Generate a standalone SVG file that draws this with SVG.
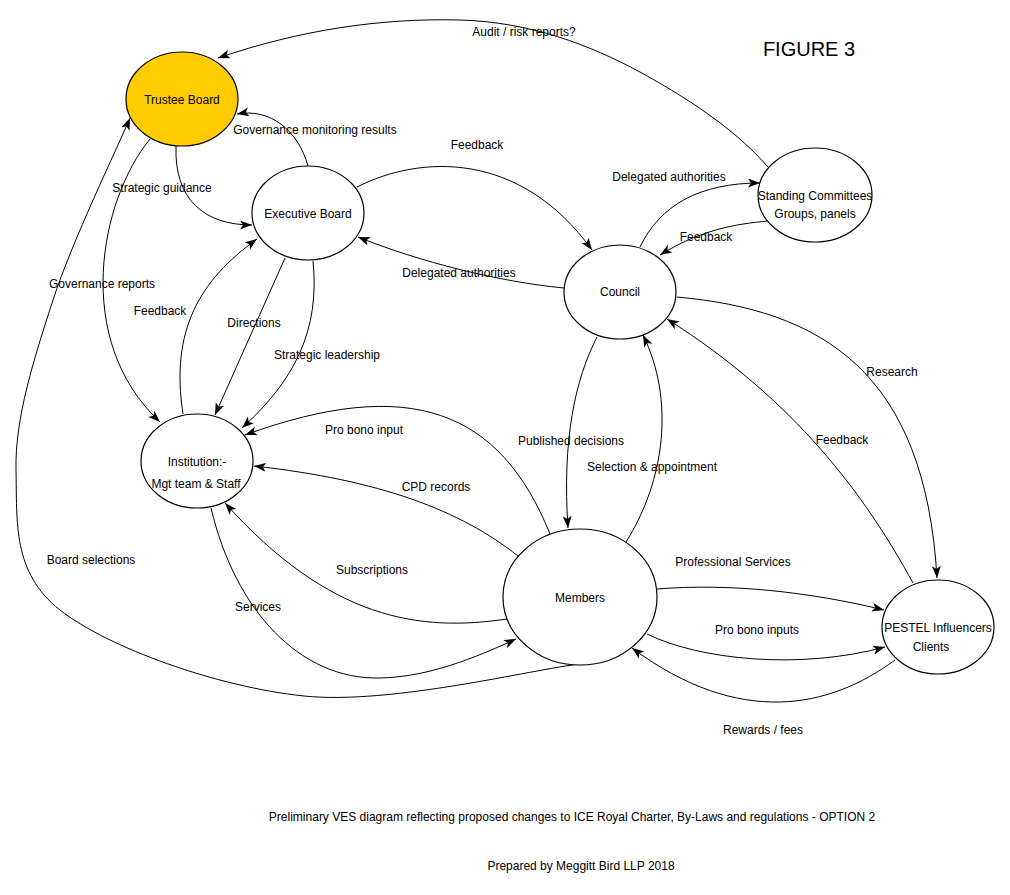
<svg xmlns="http://www.w3.org/2000/svg" width="1010" height="895" viewBox="0 0 1010 895">
<style>
.n{fill:#fff;stroke:#000;stroke-width:1.2}
.c{fill:none;stroke:#000;stroke-width:1}
text{font-family:"Liberation Sans",Arial,sans-serif;font-size:12px;fill:#000;text-anchor:middle}
.t{font-size:20px}
</style>
<defs>
<marker id="a" markerUnits="userSpaceOnUse" markerWidth="13" markerHeight="10" refX="12" refY="4.5" orient="auto">
<path d="M0,0 L12,4.5 L0,9 L3,4.5 z" fill="#000"/>
</marker>
</defs>
<rect width="1010" height="895" fill="#fff"/>
<g id="connectors">
<path class="c" marker-end="url(#a)" d="M768,167 C740,135 700,105 640,72 C590,45 530,22 460,20 C380,18 300,30 218,58"/>
<path class="c" marker-end="url(#a)" d="M308,166 C298,130 270,108 237,114"/>
<path class="c" marker-end="url(#a)" d="M176,146 C174,200 205,225 252,225"/>
<path class="c" marker-end="url(#a)" d="M357,187 C420,155 520,150 592,250"/>
<path class="c" marker-end="url(#a)" d="M564,288 C500,282 420,262 358,237"/>
<path class="c" marker-end="url(#a)" d="M640,247 C660,205 700,183 760,183"/>
<path class="c" marker-end="url(#a)" d="M768,221 C735,224 700,230 660,255"/>
<path class="c" marker-end="url(#a)" d="M580,664 C534,669 390.7,705 304,696 C217.3,687 108,647.7 60,610 C12,572.3 17.2,521.7 16,470 C14.8,418.3 34,358.7 53,300 C72,241.3 117.2,148.3 130,118"/>
<path class="c" marker-end="url(#a)" d="M150,139 C100,200 72,340 160,422"/>
<path class="c" marker-end="url(#a)" d="M183,414 C170,330 200,280 257,239"/>
<path class="c" marker-end="url(#a)" d="M285,258 L215,415"/>
<path class="c" marker-end="url(#a)" d="M313,261 C320,330 295,380 242,428"/>
<path class="c" marker-end="url(#a)" d="M550,534 C500,410 410,375 245,435"/>
<path class="c" marker-end="url(#a)" d="M518,556 C460,510 380,480 254,466"/>
<path class="c" marker-end="url(#a)" d="M507,619 C420,632 330,620 225,503"/>
<path class="c" marker-end="url(#a)" d="M211,508 C235,610 300,680 380,678 C420,677 460,665 516,639"/>
<path class="c" marker-end="url(#a)" d="M597,337 C575,380 562,440 568,528"/>
<path class="c" marker-end="url(#a)" d="M626,542 C665,480 675,400 643,335"/>
<path class="c" marker-end="url(#a)" d="M913,583 C865,495 795,400 667,319"/>
<path class="c" marker-end="url(#a)" d="M677,297 C820,310 925,370 937,578"/>
<path class="c" marker-end="url(#a)" d="M657,589 C730,583 810,592 884,610"/>
<path class="c" marker-end="url(#a)" d="M647,634 C700,660 800,670 885,647"/>
<path class="c" marker-end="url(#a)" d="M895,660 C830,708 740,728 632,648"/>
</g>
<g id="labels">
<text x="524" y="36">Audit / risk reports?</text>
<text x="315" y="134">Governance monitoring results</text>
<text x="477" y="149">Feedback</text>
<text x="162" y="192">Strategic guidance</text>
<text x="459" y="277">Delegated authorities</text>
<text x="669" y="181">Delegated authorities</text>
<text x="706" y="241">Feedback</text>
<text x="102" y="288">Governance reports</text>
<text x="160" y="315">Feedback</text>
<text x="254" y="327">Directions</text>
<text x="327" y="359">Strategic leadership</text>
<text x="364" y="434">Pro bono input</text>
<text x="436" y="491">CPD records</text>
<text x="571" y="445">Published decisions</text>
<text x="652" y="471">Selection &amp; appointment</text>
<text x="372" y="574">Subscriptions</text>
<text x="258" y="611">Services</text>
<text x="91" y="564">Board selections</text>
<text x="892" y="376">Research</text>
<text x="842" y="444">Feedback</text>
<text x="733" y="566">Professional Services</text>
<text x="757" y="634">Pro bono inputs</text>
<text x="763" y="734">Rewards / fees</text>
</g>
<g id="trustee-board">
<ellipse cx="182" cy="99" rx="56" ry="47" fill="#FFCC00" stroke="#000" stroke-width="1.2"/>
<text x="182" y="104">Trustee Board</text>
</g>
<g id="executive-board">
<ellipse class="n" cx="308" cy="213" rx="56" ry="47"/>
<text x="308" y="218">Executive Board</text>
</g>
<g id="council">
<ellipse class="n" cx="620" cy="292" rx="56" ry="47"/>
<text x="620" y="296">Council</text>
</g>
<g id="standing-committees">
<ellipse class="n" cx="815" cy="195" rx="57" ry="47"/>
<text x="815" y="200">Standing Committees</text>
<text x="815" y="218">Groups, panels</text>
</g>
<g id="institution">
<ellipse class="n" cx="197" cy="461" rx="56" ry="47"/>
<text x="197" y="466">Institution:-</text>
<text x="196" y="488">Mgt team &amp; Staff</text>
</g>
<g id="members">
<ellipse class="n" cx="580" cy="597" rx="77" ry="68"/>
<text x="580" y="602">Members</text>
</g>
<g id="pestel">
<ellipse class="n" cx="938" cy="627" rx="56" ry="47"/>
<text x="938" y="632">PESTEL Influencers</text>
<text x="931" y="651">Clients</text>
</g>
<g id="titles">
<text class="t" x="809" y="56">FIGURE 3</text>
<text x="572" y="821">Preliminary VES diagram reflecting proposed changes to ICE Royal Charter, By-Laws and regulations - OPTION 2</text>
<text x="581" y="870">Prepared by Meggitt Bird LLP 2018</text>
</g>
</svg>
